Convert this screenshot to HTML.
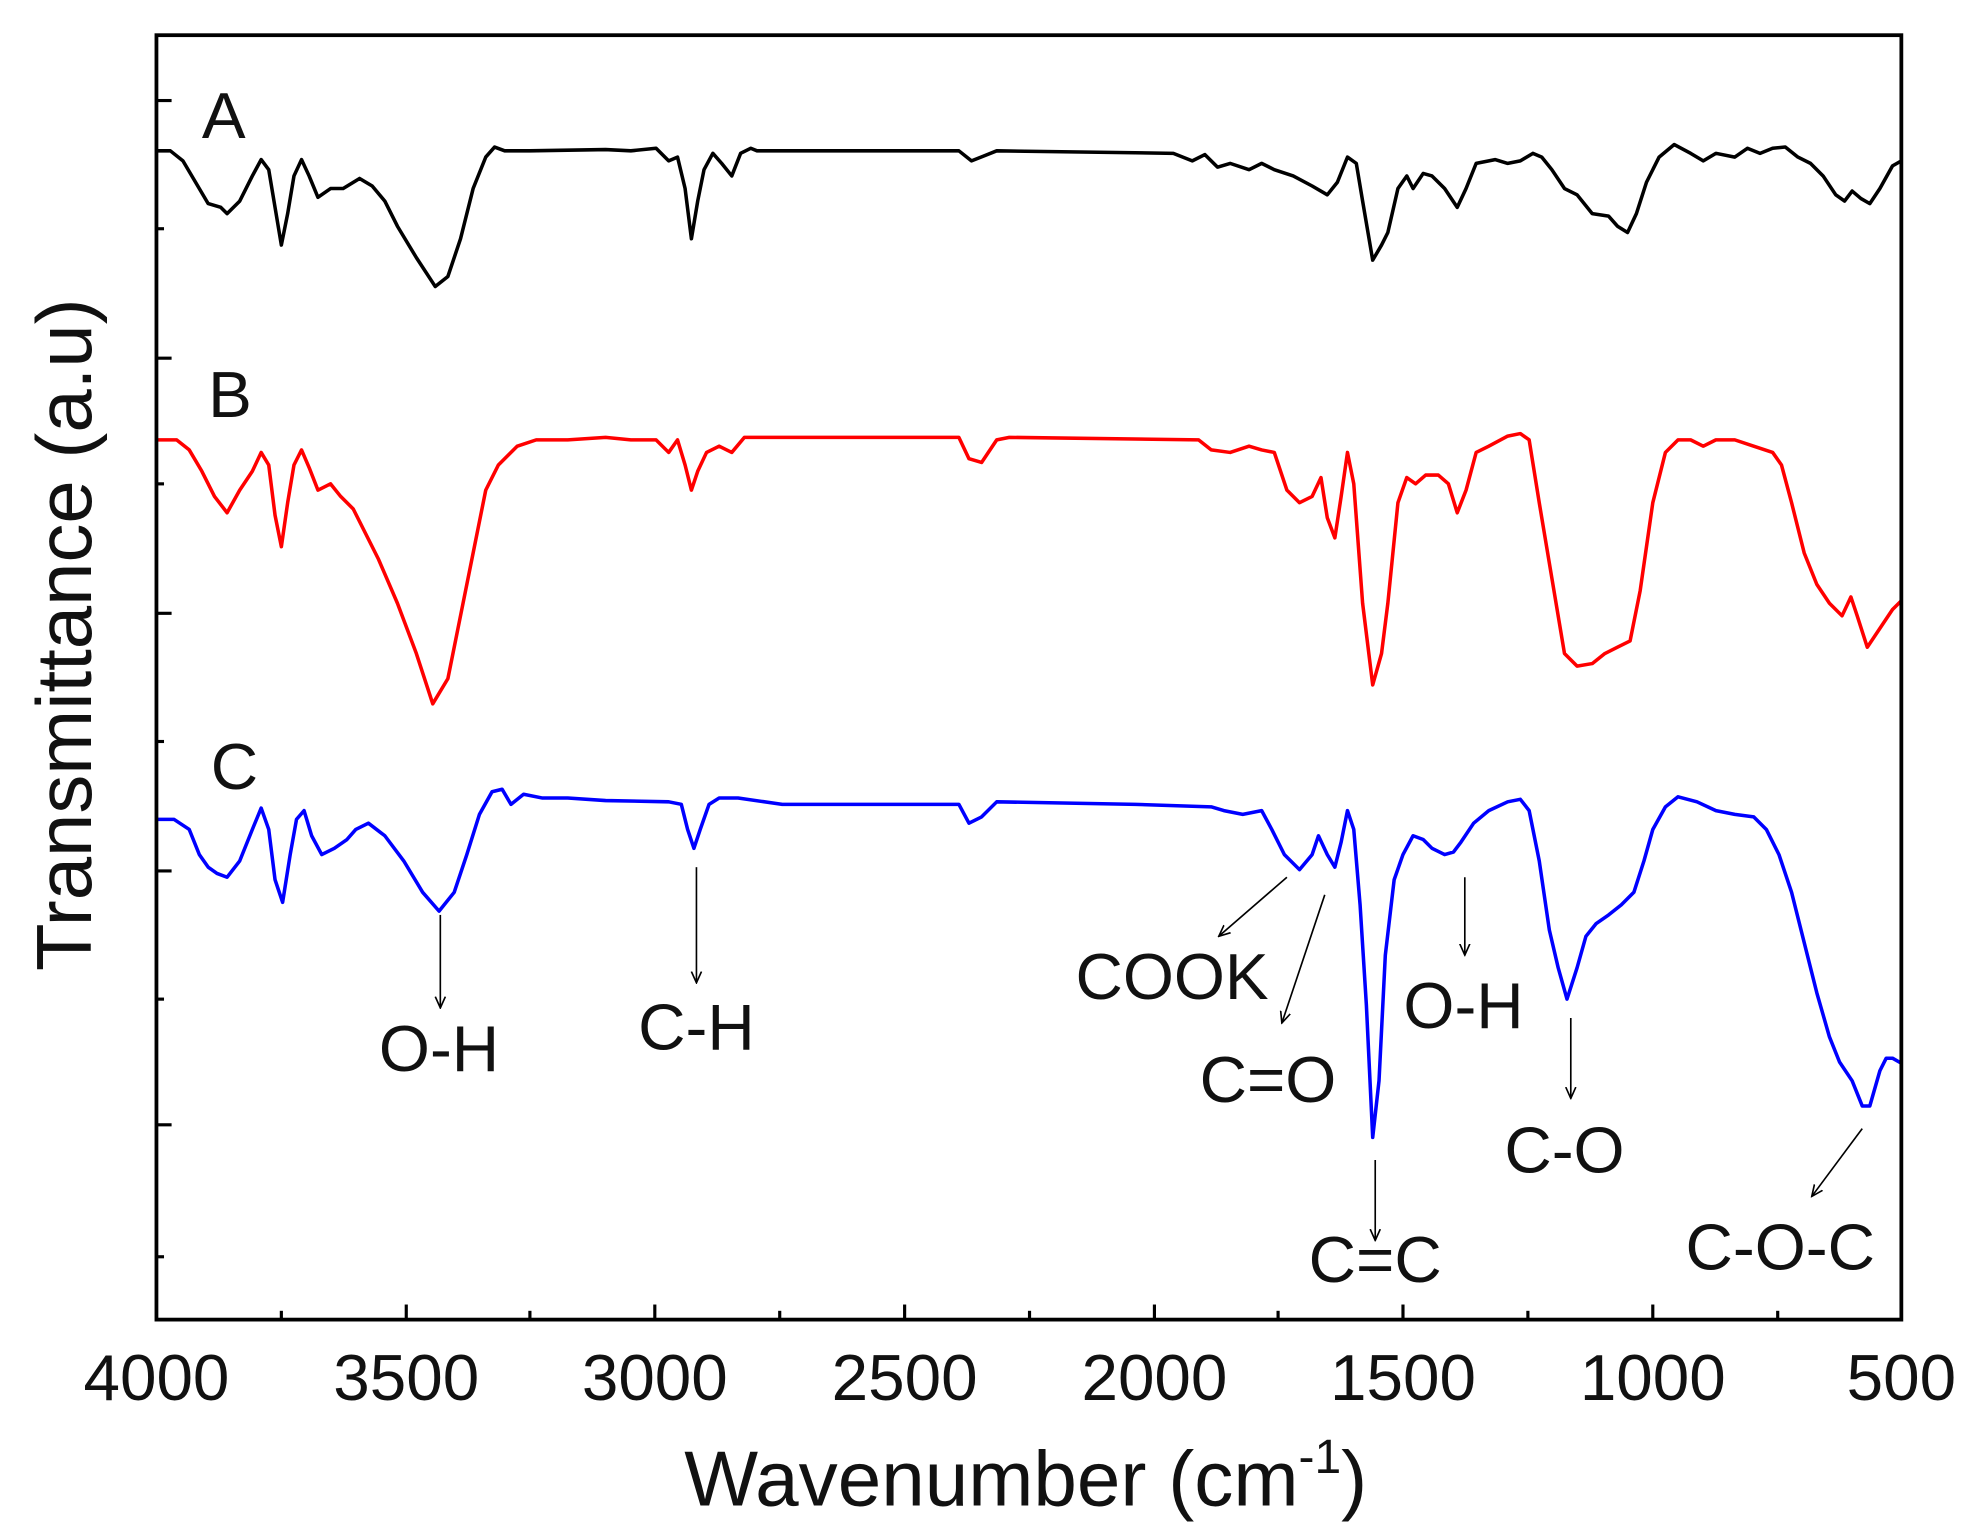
<!DOCTYPE html>
<html><head><meta charset="utf-8"><style>
html,body{margin:0;padding:0;background:#fff;}
svg{display:block;}
text{font-family:"Liberation Sans",Arial,sans-serif;fill:#111;}
</style></head><body>
<svg width="1972" height="1532" viewBox="0 0 1563 1219" preserveAspectRatio="none" xmlns="http://www.w3.org/2000/svg">
<defs>
<marker id="ah" markerWidth="10" markerHeight="10" refX="9" refY="5" orient="auto" markerUnits="userSpaceOnUse">
<path d="M0,1 L9,5 L0,9" fill="none" stroke="#000" stroke-width="1.3"/>
</marker>
</defs>
<rect x="0" y="0" width="1563" height="1219" fill="#fff"/>
<g fill="none" stroke-width="2.8" stroke-linejoin="round">
<polyline stroke="#000" points="124,120 135,120 145,128 155,145 165,162 175,165 180,170 190,160 200,140 207,127 213,135 218,165 223,195 228,170 233,140 239,127 245,140 252,157 262,150 272,150 285,142 295,148 305,160 315,180 330,205 345,228 355,220 365,190 375,150 385,125 392,117 400,120 420,120 480,119 500,120 520,118 530,128 537,125 543,150 548,190 553,160 558,135 565,122 572,130 580,140 587,122 595,118 600,120 760,120 770,128 780,124 790,120 930,122 945,128 955,123 965,133 975,130 990,135 1000,130 1010,135 1025,140 1040,148 1052,155 1060,145 1068,125 1075,130 1080,160 1088,207 1095,195 1100,185 1108,150 1115,140 1120,150 1128,138 1135,140 1145,150 1155,165 1162,150 1170,130 1185,127 1195,130 1205,128 1215,122 1222,125 1230,135 1240,150 1250,155 1262,170 1275,172 1282,180 1290,185 1297,170 1305,145 1315,125 1327,115 1340,122 1350,128 1360,122 1375,125 1385,118 1395,122 1405,118 1415,117 1425,125 1435,130 1445,140 1455,155 1462,160 1468,152 1475,158 1482,162 1490,150 1500,132 1507,128"/>
<polyline stroke="#f00" points="124,350 140,350 150,358 160,375 170,395 180,408 190,390 200,375 207,360 213,370 218,410 223,435 228,400 233,370 239,358 245,372 252,390 262,385 270,395 280,405 290,425 300,445 315,480 330,520 343,560 355,540 365,490 375,440 385,390 395,370 410,355 425,350 450,350 480,348 500,350 520,350 530,360 537,350 543,370 548,390 553,375 560,360 570,355 580,360 590,348 620,348 760,348 768,365 778,368 790,350 800,348 950,350 960,358 975,360 990,355 1000,358 1010,360 1020,390 1030,400 1040,395 1047,380 1052,412 1058,428 1063,395 1068,360 1073,385 1080,480 1088,545 1095,520 1100,480 1108,400 1115,380 1122,385 1130,378 1140,378 1148,385 1155,408 1162,390 1170,360 1180,355 1195,347 1205,345 1212,350 1220,400 1230,460 1240,520 1250,530 1262,528 1272,520 1282,515 1292,510 1300,470 1310,400 1320,360 1330,350 1340,350 1350,355 1360,350 1375,350 1390,355 1405,360 1412,370 1420,400 1430,440 1440,465 1450,480 1460,490 1467,475 1472,490 1480,515 1490,500 1500,485 1507,478"/>
<polyline stroke="#00f" points="124,652 138,652 150,660 158,680 165,690 172,695 180,698 190,685 200,660 207,643 213,660 218,700 224,718 230,680 235,652 241,645 247,665 255,680 265,675 275,668 282,660 292,655 305,665 320,685 335,710 348,725 360,710 370,680 380,648 390,630 398,628 405,640 415,632 430,635 450,635 480,637 530,638 540,640 545,660 550,675 555,660 562,640 570,635 585,635 620,640 700,640 760,640 768,655 778,650 790,638 900,640 960,642 970,645 985,648 1000,645 1008,660 1018,680 1030,692 1040,680 1045,665 1052,680 1058,690 1063,670 1068,645 1073,660 1078,720 1083,800 1088,905 1093,860 1098,760 1105,700 1112,680 1120,665 1128,668 1135,675 1145,680 1152,678 1158,670 1168,655 1180,645 1195,638 1205,636 1212,645 1220,685 1228,740 1235,770 1242,795 1250,770 1257,745 1265,735 1275,728 1285,720 1295,710 1303,685 1310,660 1320,642 1330,634 1345,638 1360,645 1375,648 1390,650 1400,660 1410,680 1420,710 1430,750 1440,790 1450,825 1458,845 1468,860 1476,880 1482,880 1490,852 1495,842 1500,842 1507,846"/>
</g>
<rect x="124" y="28" width="1383" height="1022" fill="none" stroke="#000" stroke-width="3"/>
<g stroke="#000" stroke-width="2.5">
<line x1="124" y1="80" x2="136" y2="80"/><line x1="124" y1="182" x2="130" y2="182"/>
<line x1="124" y1="285" x2="136" y2="285"/><line x1="124" y1="385" x2="130" y2="385"/>
<line x1="124" y1="488" x2="136" y2="488"/><line x1="124" y1="590" x2="130" y2="590"/>
<line x1="124" y1="693" x2="136" y2="693"/><line x1="124" y1="795" x2="130" y2="795"/>
<line x1="124" y1="895" x2="136" y2="895"/><line x1="124" y1="1000" x2="130" y2="1000"/>
<line x1="223" y1="1050" x2="223" y2="1043"/><line x1="322" y1="1050" x2="322" y2="1038"/>
<line x1="420" y1="1050" x2="420" y2="1043"/><line x1="519" y1="1050" x2="519" y2="1038"/>
<line x1="618" y1="1050" x2="618" y2="1043"/><line x1="717" y1="1050" x2="717" y2="1038"/>
<line x1="816" y1="1050" x2="816" y2="1043"/><line x1="915" y1="1050" x2="915" y2="1038"/>
<line x1="1013" y1="1050" x2="1013" y2="1043"/><line x1="1112" y1="1050" x2="1112" y2="1038"/>
<line x1="1211" y1="1050" x2="1211" y2="1043"/><line x1="1310" y1="1050" x2="1310" y2="1038"/>
<line x1="1409" y1="1050" x2="1409" y2="1043"/>
</g>
<g font-size="52" text-anchor="middle">
<text x="124" y="1114">4000</text><text x="322" y="1114">3500</text>
<text x="519" y="1114">3000</text><text x="717" y="1114">2500</text>
<text x="915" y="1114">2000</text><text x="1112" y="1114">1500</text>
<text x="1310" y="1114">1000</text><text x="1507" y="1114">500</text>
</g>
<text x="813" y="1198" font-size="62" text-anchor="middle">Wavenumber (cm<tspan font-size="38" dy="-26">-1</tspan><tspan dy="26">)</tspan></text>
<text transform="translate(72,505) rotate(-90)" font-size="62" text-anchor="middle">Transmittance (a.u)</text>
<g font-size="52">
<text x="160" y="110">A</text><text x="165" y="332">B</text><text x="167" y="628">C</text>
</g>
<g stroke="#000" stroke-width="1.3" marker-end="url(#ah)">
<line x1="349" y1="728" x2="349" y2="802"/>
<line x1="552" y1="690" x2="552" y2="782"/>
<line x1="1020" y1="698" x2="966" y2="745"/>
<line x1="1050" y1="712" x2="1016" y2="814"/>
<line x1="1090" y1="923" x2="1090" y2="987"/>
<line x1="1161" y1="698" x2="1161" y2="760"/>
<line x1="1245" y1="810" x2="1245" y2="874"/>
<line x1="1476" y1="898" x2="1436" y2="952"/>
</g>
<g font-size="52" text-anchor="middle">
<text x="348" y="852">O-H</text>
<text x="552" y="835">C-H</text>
<text x="929" y="795">COOK</text>
<text x="1005" y="877">C=O</text>
<text x="1090" y="1020">C=C</text>
<text x="1160" y="818">O-H</text>
<text x="1240" y="933">C-O</text>
<text x="1411" y="1010">C-O-C</text>
</g>
</svg>
</body></html>
